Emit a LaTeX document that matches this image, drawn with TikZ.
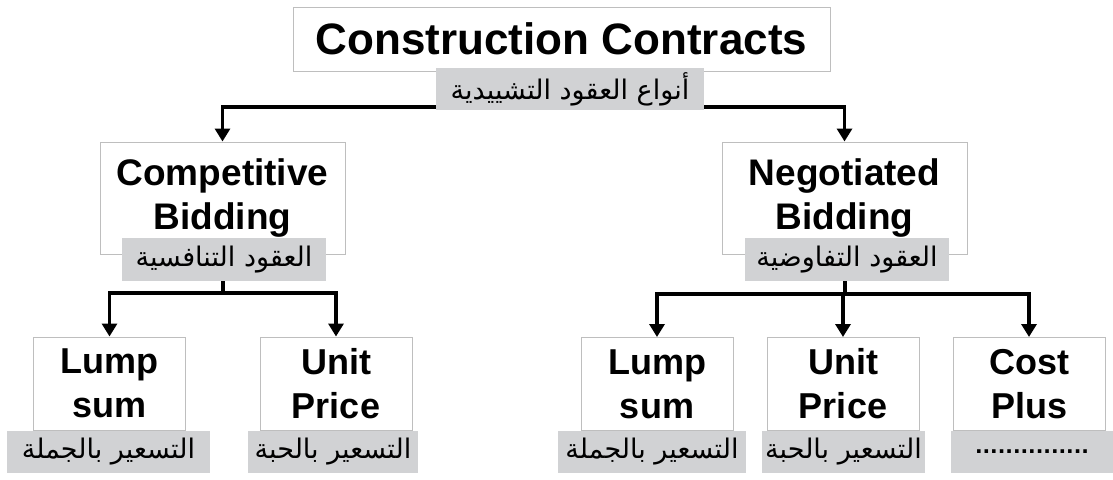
\documentclass[tikz,border=0pt]{standalone}
\usepackage{fontspec}
\setmainfont{Liberation Sans}
\newfontfamily\arabicfont[Script=Arabic]{DejaVu Sans}
\TeXXeTstate=1
\usetikzlibrary{arrows.meta,backgrounds}

\definecolor{labelgray}{RGB}{209,210,212}
\definecolor{boxedge}{RGB}{190,190,190}

\tikzset{
  x=1pt, y=-1pt,
  titlebox/.style={draw=boxedge, line width=1pt, fill=white, minimum width=537pt,
    minimum height=64pt, inner sep=0pt, font=\fontsize{44}{50}\selectfont\bfseries},
  midbox/.style={draw=boxedge, line width=1pt, fill=white, minimum width=245pt,
    minimum height=112pt, inner sep=0pt, align=center,
    font=\fontsize{37}{44}\selectfont\bfseries},
  leafbox/.style={draw=boxedge, line width=1pt, fill=white, minimum width=152pt,
    minimum height=93pt, inner sep=0pt, align=center,
    font=\fontsize{36}{44}\selectfont\bfseries},
  arlabel/.style={fill=labelgray, minimum height=42pt, inner sep=0pt,
    font=\arabicfont\fontsize{27}{30}\selectfont},
  link/.style={line width=3.8pt, line cap=butt},
  arrowlink/.style={link, -{Triangle[width=15pt,length=13pt]}},
}

\begin{document}
\begin{tikzpicture}
\useasboundingbox (0,0) rectangle (1113,479);

% boxes
\node[titlebox] (root) at (561.5,39) {Construction Contracts};
\node[midbox] (comp) at (222.5,198) {Competitive\\Bidding};
\node[midbox] (nego) at (844.5,198) {Negotiated\\Bidding};
\node[leafbox] (clump) at (109.5,383.5) {Lump\\sum};
\node[leafbox] (cunit) at (336,383.5) {Unit\\Price};
\node[leafbox] (nlump) at (657,384) {Lump\\sum};
\node[leafbox] (nunit) at (843,384) {Unit\\Price};
\node[leafbox] (ncost) at (1029,384) {Cost\\Plus};

% Arabic captions
\node[arlabel, minimum width=268pt] (rootlbl) at (570,89) {\beginR أنواع العقود التشييدية\endR};
\node[arlabel, minimum width=204pt, minimum height=43pt] (complbl) at (224,259.5) {\beginR العقود التنافسية\endR};
\node[arlabel, minimum width=204pt, minimum height=43pt] (negolbl) at (847,259.5) {\beginR العقود التفاوضية\endR};
\node[arlabel, minimum width=203pt] (clumplbl) at (108.5,452) {\beginR التسعير بالجملة\endR};
\node[arlabel, minimum width=170pt] (cunitlbl) at (333,452) {\beginR التسعير بالحبة\endR};
\node[arlabel, minimum width=188pt] (nlumplbl) at (652,452) {\beginR التسعير بالجملة\endR};
\node[arlabel, minimum width=163pt] (nunitlbl) at (843.5,452) {\beginR التسعير بالحبة\endR};
\node[arlabel, minimum width=163pt, font=\arabicfont\fontsize{20}{24}\selectfont\bfseries] (ncostlbl) at (1032,452) {...............};

% junction points of the connectors
\coordinate (rootsplit) at (570,107);
\coordinate (compsplit) at (223,293);
\coordinate (negosplit) at (845,294);

\begin{scope}[on background layer]
  \draw[arrowlink] (rootsplit) -| (comp.north);
  \draw[arrowlink] (rootsplit) -| (nego.north);
  \draw[link] (complbl.south -| compsplit) -- (compsplit);
  \draw[arrowlink] (compsplit) -| (clump.north);
  \draw[arrowlink] (compsplit) -| (cunit.north);
  \draw[link] (negolbl.south -| negosplit) -- (negosplit);
  \draw[arrowlink] (negosplit) -| (nlump.north);
  \draw[arrowlink] (negosplit) -| (nunit.north);
  \draw[arrowlink] (negosplit) -| (ncost.north);
\end{scope}
\end{tikzpicture}
\end{document}
